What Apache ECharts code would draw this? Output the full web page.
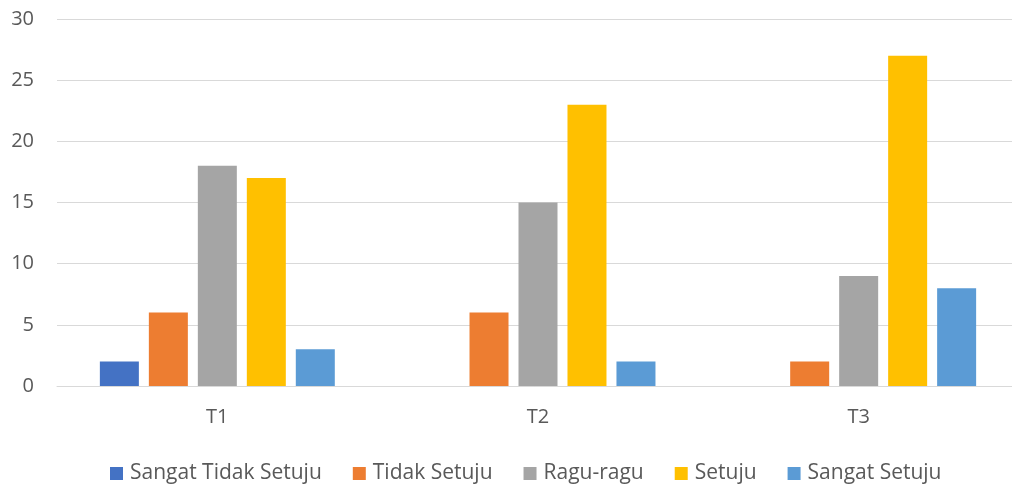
<!DOCTYPE html>
<html>
<head>
<meta charset="utf-8">
<script src="https://cdn.jsdelivr.net/npm/echarts@6/dist/echarts.min.js"></script>
<style>
  html, body { margin: 0; padding: 0; background: #fff; }
  #chart { width: 1012px; height: 504px; }
</style>
</head>
<body>
<div id="chart"></div>
<script>
var categories = ['T1', 'T2', 'T3'];
var seriesNames = ['Sangat Tidak Setuju', 'Tidak Setuju', 'Ragu-ragu', 'Setuju', 'Sangat Setuju'];
var sangatTidakSetuju = [2, 0, 0];
var tidakSetuju = [6, 6, 2];
var raguRagu = [18, 15, 9];
var setuju = [17, 23, 27];
var sangatSetuju = [3, 2, 8];
var yTicks = [0, 5, 10, 15, 20, 25, 30];

var colors = ['#4472C4', '#ED7D31', '#A5A5A5', '#FFC000', '#5B9BD5'];
var values = [sangatTidakSetuju, tidakSetuju, raguRagu, setuju, sangatSetuju];
var font = 'Open Sans';

var series = [];
for (var i = 0; i < seriesNames.length; i++) {
  series.push({
    name: seriesNames[i],
    type: 'bar',
    data: values[i],
    barWidth: 39,
    barGap: '25.6%',
    itemStyle: { color: colors[i] }
  });
}

var myChart = echarts.init(document.getElementById('chart'));
myChart.setOption({
  animation: false,
  color: colors,
  grid: { left: 57, top: 19, width: 962, height: 367, outerBoundsMode: 'none' },
  legend: {
    top: 458,
    left: 105,
    itemWidth: 13,
    itemHeight: 13,
    itemGap: 31,
    icon: 'rect',
    textStyle: { fontFamily: font, fontSize: 21, color: '#595959', padding: [0, 0, 0, 2] },
    data: seriesNames
  },
  xAxis: {
    type: 'category',
    data: categories,
    axisLine: { lineStyle: { color: '#D9D9D9', width: 1 } },
    axisTick: { show: false },
    axisLabel: { fontFamily: font, fontSize: 20, color: '#595959', margin: 21 }
  },
  yAxis: {
    type: 'value',
    min: yTicks[0],
    max: yTicks[yTicks.length - 1],
    interval: 5,
    axisLine: { show: false },
    axisTick: { show: false },
    splitLine: { lineStyle: { color: '#D9D9D9', width: 1 } },
    axisLabel: { fontFamily: font, fontSize: 20, color: '#595959', margin: 23 }
  },
  series: series
});
</script>
</body>
</html>
